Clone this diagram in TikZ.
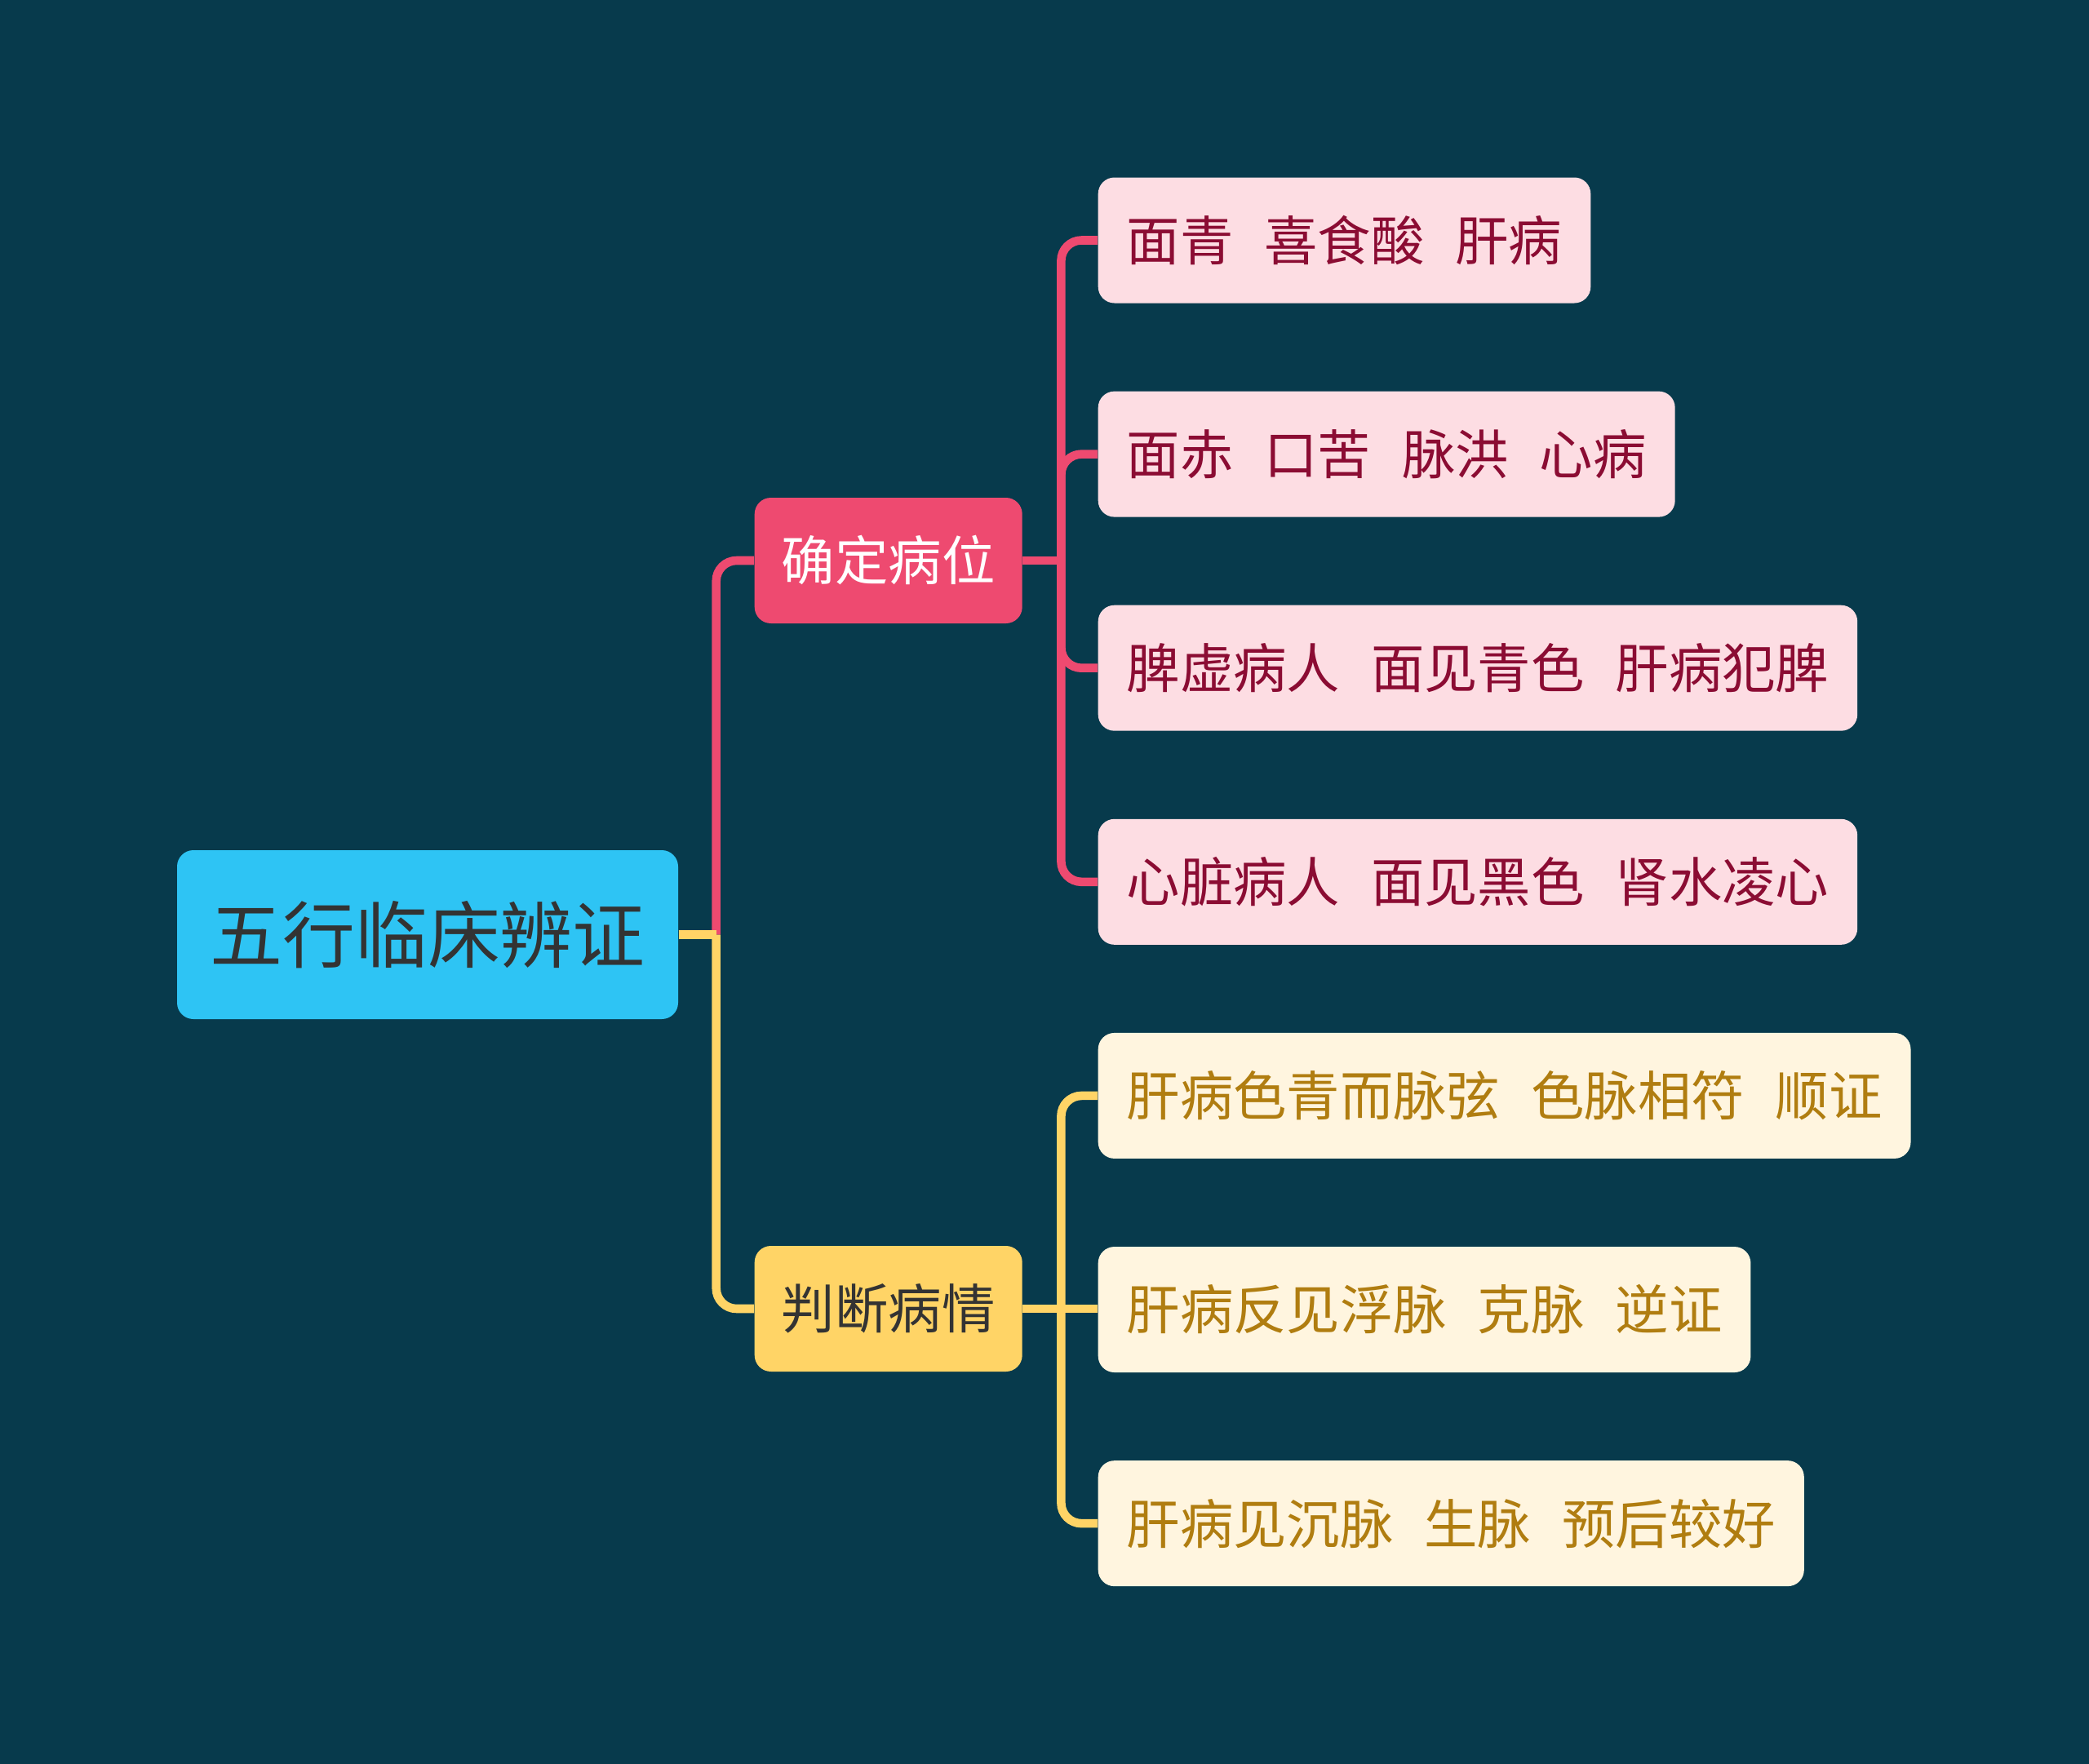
\documentclass[tikz,border=0pt]{standalone}
\usepackage{fontspec}
\setmainfont{Noto Sans CJK SC}
\usetikzlibrary{positioning}

\definecolor{bgteal}{HTML}{073A4C}
\definecolor{rootcyan}{HTML}{2EC4F4}
\definecolor{redmain}{HTML}{EE4A70}
\definecolor{yelmain}{HTML}{FFD466}
\definecolor{redleaf}{HTML}{FDDDE3}
\definecolor{redtext}{HTML}{8B0C33}
\definecolor{yelleaf}{HTML}{FFF5DF}
\definecolor{yeltext}{HTML}{B07D10}
\definecolor{darktext}{HTML}{333333}

\newcommand{\gp}{\hspace{0.38cm}}

\begin{document}
\begin{tikzpicture}[
    node distance=1.067cm,
    every node/.style={font=\fontsize{18.6pt}{22pt}\selectfont, inner sep=0pt},
    rootbox/.style={fill=rootcyan, text=darktext, rounded corners=0.2cm, minimum width=6.14cm, minimum height=2.07cm, font=\fontsize{25.3pt}{30pt}\selectfont},
    mainbox/.style={rounded corners=0.2cm, minimum width=3.28cm, minimum height=1.54cm, anchor=west},
    leafbox/.style={rounded corners=0.2cm, inner xsep=0.35cm, minimum height=1.54cm},
    redleafbox/.style={leafbox, fill=redleaf, text=redtext},
    yelleafbox/.style={leafbox, fill=yelleaf, text=yeltext},
    redlink/.style={draw=redmain, line width=3pt},
    yellink/.style={draw=yelmain, line width=3pt},
    curve/.style={rounded corners=0.25cm}
]
\useasboundingbox (0,0) rectangle (25.6,-21.62);
\fill[bgteal] (0,0) rectangle (25.6,-21.62);

% root and the two branches
\node[rootbox] (root) at (5.24,-11.455) {五行临床辨证};
\node[mainbox, fill=redmain, text=white] (locate) at (9.24,-6.87) {确定病位};
\node[mainbox, fill=yelmain, text=darktext] (judge) at (9.24,-16.04) {判断病情};

% leaves
\node[redleafbox, anchor=west] (l1) at (13.45,-2.945) {面青\gp{}喜食酸\gp{}肝病};
\node[redleafbox, below=of l1.south west, anchor=north west] (l2) {面赤\gp{}口苦\gp{}脉洪\gp{}心病};
\node[redleafbox, below=of l2.south west, anchor=north west] (l3) {脾虚病人\gp{}面见青色\gp{}肝病犯脾};
\node[redleafbox, below=of l3.south west, anchor=north west] (l4) {心脏病人\gp{}面见黑色\gp{}肾水凌心};
\node[yelleafbox, below=of l4.south west, anchor=north west] (y1) {肝病色青而脉弦\gp{}色脉相符\gp{}顺证};
\node[yelleafbox, below=of y1.south west, anchor=north west] (y2) {肝病反见浮脉\gp{}克脉\gp{}逆证};
\node[yelleafbox, below=of y2.south west, anchor=north west] (y3) {肝病见沉脉\gp{}生脉\gp{}预后较好};

\coordinate[right=0.46cm of root.east] (hub);
\coordinate[right=0.47cm of locate.east] (hub1);
\coordinate[right=0.47cm of judge.east] (hub2);

% connectors
\draw[redlink, curve] (hub) |- (locate.west);
\draw[yellink] (root.east) -- (hub);
\draw[yellink, curve] (hub) |- (judge.west);

\draw[redlink] (locate.east) -- (hub1);
\foreach \leaf in {l1,l2,l3,l4}
  \draw[redlink, curve] (hub1) |- (\leaf.west);

\draw[yellink] (judge.east) -- (judge.east -| y2.west);
\foreach \leaf in {y1,y3}
  \draw[yellink, curve] (hub2) |- (\leaf.west);
\end{tikzpicture}
\end{document}
